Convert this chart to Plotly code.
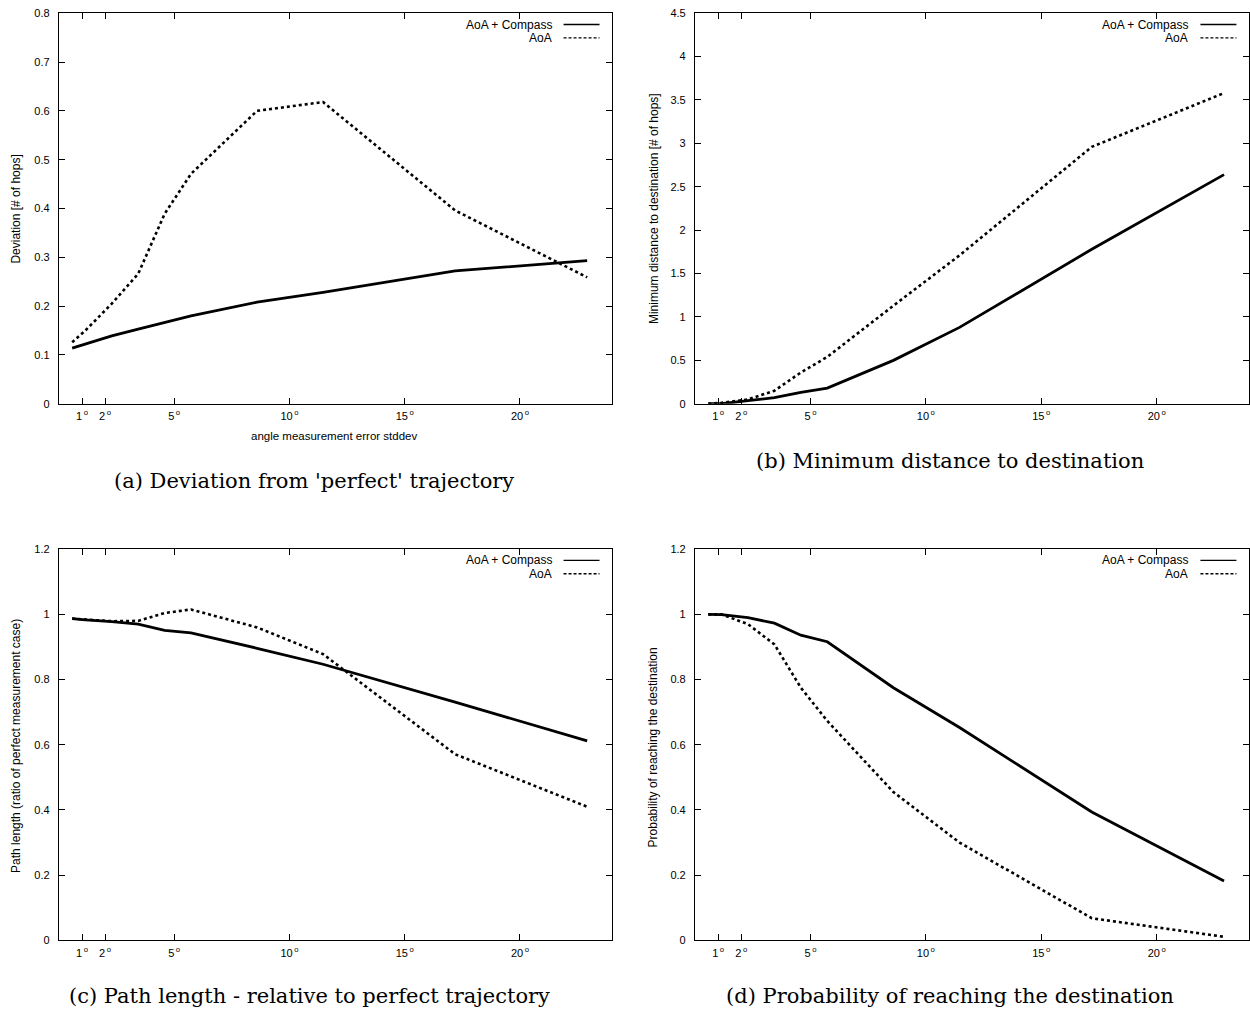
import plotly.graph_objects as go

# ---------------- data ----------------
x_deg = [0.573, 1.146, 2.292, 3.438, 4.584, 5.730, 8.594, 11.459, 17.189, 22.918]

dev_compass = [0.114, 0.122, 0.139, 0.153, 0.167, 0.180, 0.208, 0.228, 0.272, 0.293]
dev_aoa = [0.126, 0.150, 0.205, 0.266, 0.389, 0.471, 0.600, 0.618, 0.396, 0.259]

mindist_compass = [0.0, 0.0, 0.035, 0.07, 0.13, 0.18, 0.50, 0.88, 1.78, 2.64]
mindist_aoa = [0.0, 0.01, 0.05, 0.15, 0.36, 0.54, 1.13, 1.71, 2.96, 3.58]

pathlen_compass = [0.987, 0.983, 0.978, 0.970, 0.951, 0.943, 0.896, 0.847, 0.731, 0.612]
pathlen_aoa = [0.987, 0.984, 0.979, 0.980, 1.004, 1.015, 0.960, 0.878, 0.571, 0.410]

prob_compass = [1.0, 0.999, 0.990, 0.973, 0.936, 0.916, 0.775, 0.653, 0.394, 0.182]
prob_aoa = [1.0, 1.0, 0.970, 0.908, 0.775, 0.673, 0.455, 0.300, 0.068, 0.011]

x_tickvals = [1, 2, 5, 10, 15, 20]
x_ticklabels = ["1", "2", "5", "10", "15", "20"]

series_names = ["AoA + Compass", "AoA"]
captions = ["(a) Deviation from 'perfect' trajectory",
            "(b) Minimum distance to destination",
            "(c) Path length - relative to perfect trajectory",
            "(d) Probability of reaching the destination"]
y_titles = ["Deviation [# of hops]",
            "Minimum distance to destination [# of hops]",
            "Path length (ratio of perfect measurement case)",
            "Probability of reaching the destination"]
x_title = "angle measurement error stddev"

# ---------------- layout geometry ----------------
W, H = 1250, 1011
SANS = "Liberation Sans, Arial, sans-serif"
SERIF = "DejaVu Serif, serif"

panels = [
    dict(data=(dev_compass, dev_aoa), box=(59, 612.6, 12.7, 403), yr=(0, 0.8), dt=0.1),
    dict(data=(mindist_compass, mindist_aoa), box=(695.6, 1250, 12.7, 403), yr=(0, 4.5), dt=0.5),
    dict(data=(pathlen_compass, pathlen_aoa), box=(59, 612.6, 548.3, 939.3), yr=(0, 1.2), dt=0.2),
    dict(data=(prob_compass, prob_aoa), box=(695.6, 1250, 548.3, 939.3), yr=(0, 1.2), dt=0.2),
]
caption_pos = [(314, 480), (951, 460), (310, 995), (951, 995)]
ytitle_pos = [(16, 208), (654, 208), (16, 745), (653, 746)]

# vertical calibration of the page capture (observed: shown_y = 5.5 + 0.9875 * fig_y)
CAL_OFF, CAL_SCALE = 5.5, 0.9875


def px(x):
    return x / W


def py(y):
    return 1 - ((y - CAL_OFF) / CAL_SCALE) / H


deg_text = [t + "<sup>\u2009o</sup>" for t in x_ticklabels]

fig = go.Figure()
annotations = []
shapes = []

for i, p in enumerate(panels):
    n = "" if i == 0 else str(i + 1)
    xa, ya = "x" + n, "y" + n
    x0, x1, y0, y1 = p["box"]
    solid, dashed = p["data"]
    fig.add_trace(go.Scatter(x=x_deg, y=solid, mode="lines", name=series_names[0],
                             line=dict(color="black", width=2.8), xaxis=xa, yaxis=ya,
                             showlegend=False))
    fig.add_trace(go.Scatter(x=x_deg, y=dashed, mode="lines", name=series_names[1],
                             line=dict(color="black", width=2.6, dash="3px,3px"),
                             xaxis=xa, yaxis=ya, showlegend=False))
    axis_common = dict(showline=True, linecolor="black", linewidth=1.2, mirror="ticks",
                       ticks="inside", ticklen=6, tickcolor="black", tickwidth=1,
                       showgrid=False, zeroline=False,
                       tickfont=dict(family=SANS, size=11, color="black"))
    fig.update_layout({
        "xaxis" + n: dict(domain=[px(x0), px(x1)], range=[0, 24], tickmode="array",
                          tickvals=x_tickvals, ticktext=deg_text, anchor=ya,
                          ticklabelstandoff=2, **axis_common),
        "yaxis" + n: dict(domain=[py(y1), py(y0)], range=list(p["yr"]), dtick=p["dt"],
                          tick0=0, anchor=xa, ticklabelstandoff=6, **axis_common),
    })
    # legend (gnuplot style: text left, sample right)
    for k, (name, dash) in enumerate(zip(series_names, ["solid", "3px,2px"])):
        yy = y0 + 11.3 + 13.3 * k
        annotations.append(dict(x=px(x1 - 58.6), y=py(yy), xref="paper", yref="paper",
                                text=name, showarrow=False, xanchor="right", yanchor="middle",
                                font=dict(family=SANS, size=12, color="black")))
        shapes.append(dict(type="line", xref="paper", yref="paper",
                           x0=px(x1 - 48.6), x1=px(x1 - 12.6), y0=py(yy), y1=py(yy),
                           line=dict(color="black", width=1.3, dash=dash)))
    # y-axis title
    tx, ty = ytitle_pos[i]
    annotations.append(dict(x=px(tx), y=py(ty), xref="paper", yref="paper", text=y_titles[i],
                            showarrow=False, textangle=-90, xanchor="center", yanchor="middle",
                            font=dict(family=SANS, size=12, color="black")))
    # caption
    cx, cy = caption_pos[i]
    annotations.append(dict(x=px(cx), y=py(cy), xref="paper", yref="paper", text=captions[i],
                            showarrow=False, xanchor="center", yanchor="middle",
                            font=dict(family=SERIF, size=21, color="black")))

annotations.append(dict(x=px(334), y=py(435), xref="paper", yref="paper", text=x_title,
                        showarrow=False, xanchor="center", yanchor="middle",
                        font=dict(family=SANS, size=11.5, color="black")))

fig.update_layout(width=W, height=H, margin=dict(l=0, r=0, t=0, b=0),
                  paper_bgcolor="white", plot_bgcolor="white", showlegend=False,
                  annotations=annotations, shapes=shapes)

page_fix = (
    "document.documentElement.style.margin='0';"
    "document.documentElement.style.padding='0';"
    "document.documentElement.style.overflow='hidden';"
    "document.body.style.margin='0';document.body.style.padding='0';"
    "document.body.style.overflow='hidden';"
    "var gd=document.getElementById('{plot_id}');"
    "gd.style.position='fixed';gd.style.left='0px';gd.style.top='0px';"
)

fig.write_html("out.html", config={"displayModeBar": False}, post_script=page_fix)
